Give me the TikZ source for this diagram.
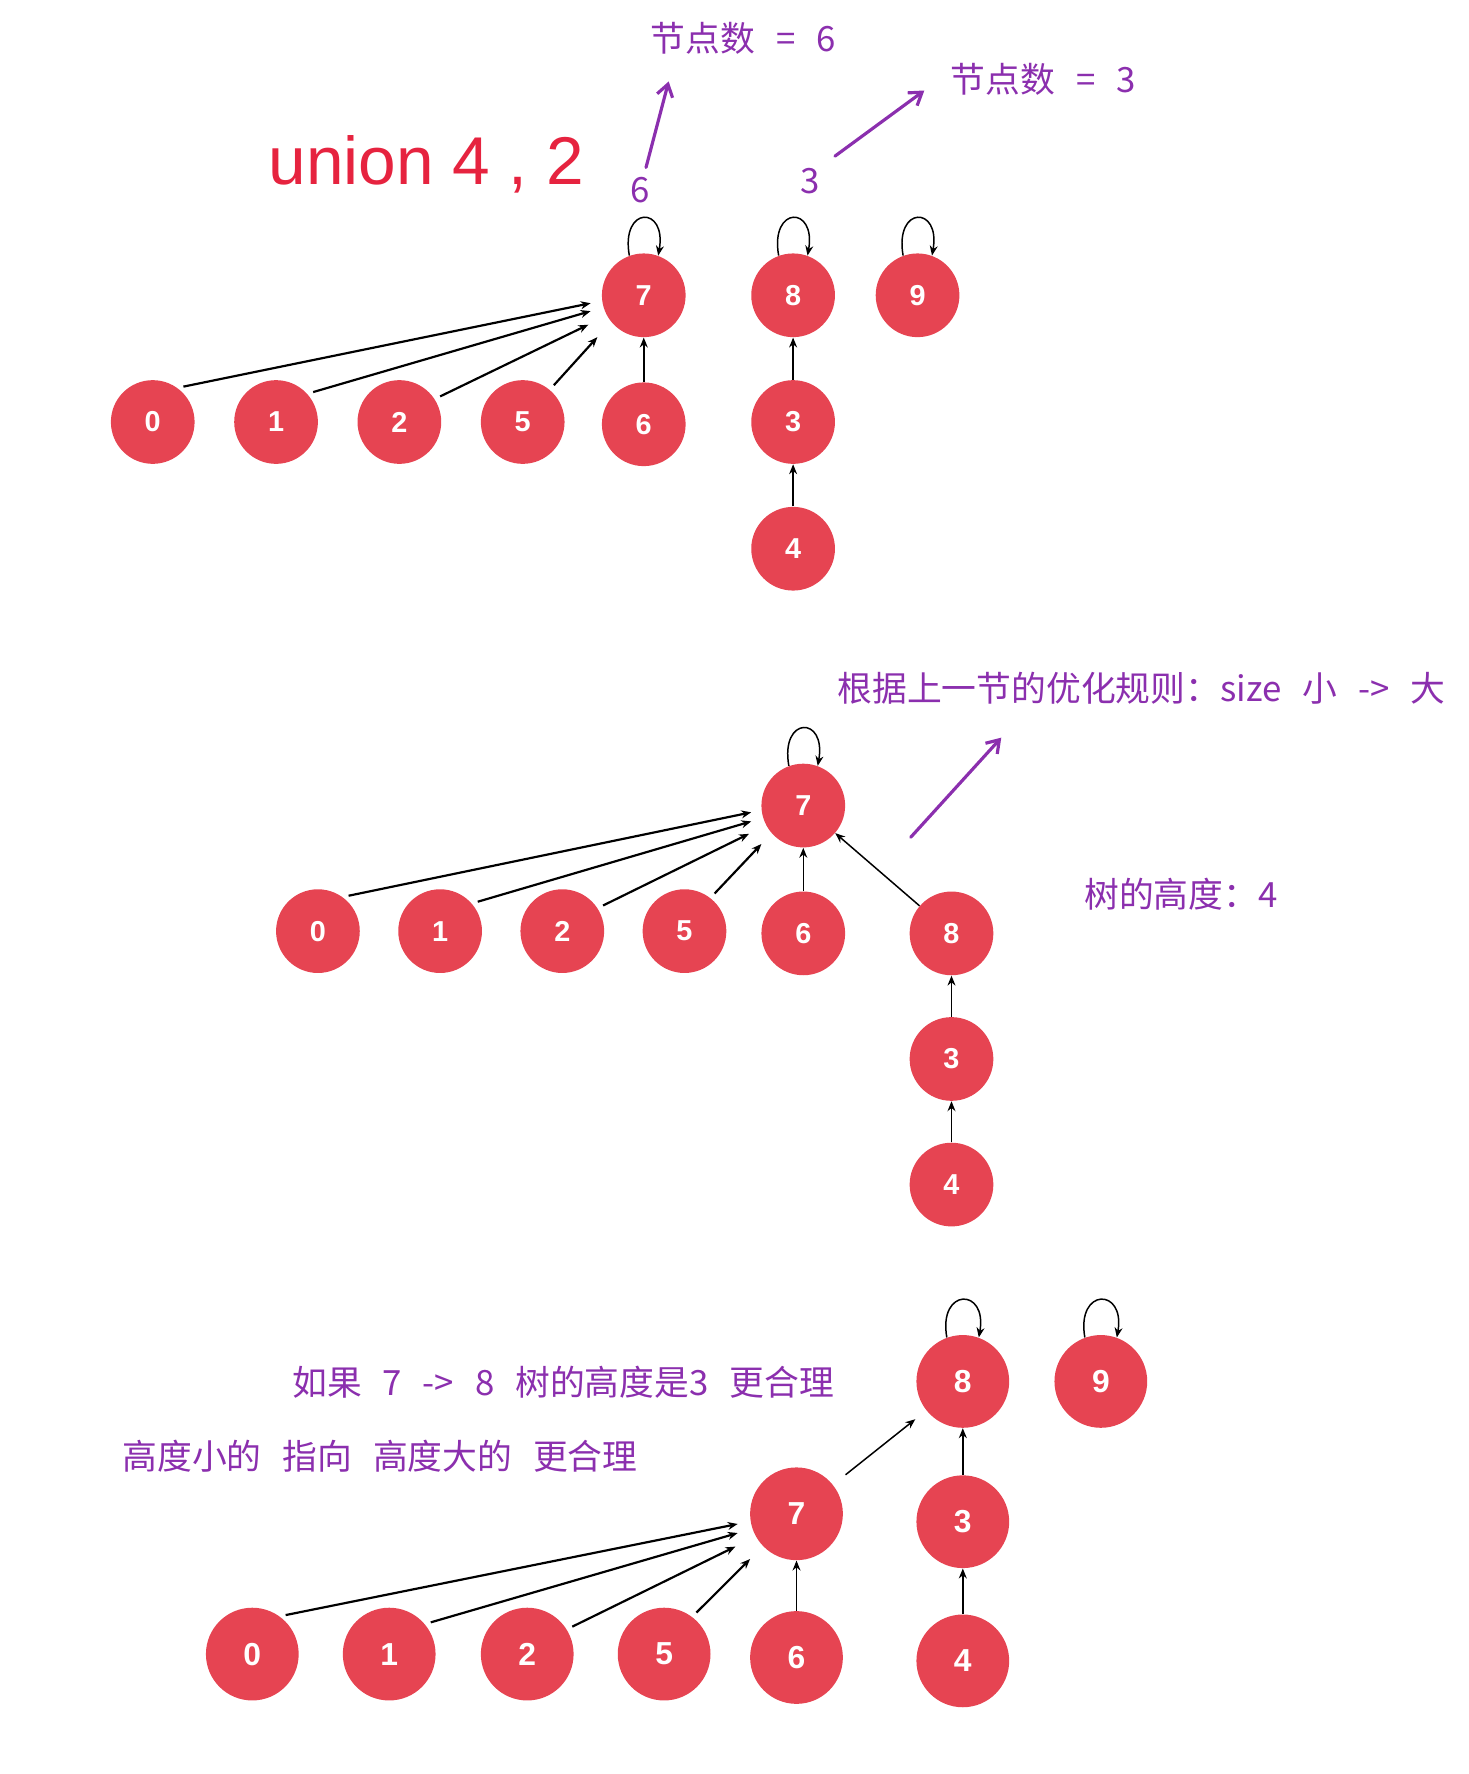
\documentclass[tikz,border=0pt]{standalone}
\usepackage{fontspec}
\setmainfont{Liberation Sans}
\newfontfamily\cjk{Noto Sans CJK SC}
\usetikzlibrary{arrows.meta}
\definecolor{nodered}{HTML}{E64452}
\definecolor{unionred}{HTML}{E6233F}
\definecolor{inkpurple}{HTML}{8B2FAE}
\newcommand{\notegap}{\hspace{0.6em}}
\begin{document}
\begin{tikzpicture}[x=0.02cm, y=0.02cm,
  >={Stealth[length=5pt,width=4pt]},
  ufnode/.style={circle, fill=nodered, text=white, inner sep=0pt, minimum size=1.48cm, font=\bfseries\fontsize{14.5}{14.5}\selectfont},
  ufbig/.style={ufnode, minimum size=1.64cm, font=\bfseries\fontsize{16}{16}\selectfont},
  link/.style={->, line width=0.75pt},
  fan/.style={->, line width=1.1pt, shorten <=3pt},
  selfloop/.style={->, line width=0.75pt, out=100, in=80, min distance=0.9cm},
  note/.style={text=inkpurple, inner sep=0pt, font=\cjk\fontsize{17.5}{20}\selectfont},
  ink/.style={draw=inkpurple, line width=1.6pt, line cap=round, -{Straight Barb[length=6pt,width=8pt]}}]
  \useasboundingbox (0,0) rectangle (1298,-1568);
  % Header
  \node (unionTitle) [text=unionred, anchor=base west, inner sep=0pt, font=\fontsize{34}{34}\selectfont] at (237,-163) {union 4 , 2};
  \node (cntSix) [note] at (657,-34) {节点数\notegap{}=\notegap{}6};
  \node (cntThree) [note] at (922,-70) {节点数\notegap{}=\notegap{}3};
  \node (sizeSix) [note] at (566,-168) {6};
  \node (sizeThree) [note] at (716,-160) {3};
  \coordinate (sixFrom) at (571,-148);
  \coordinate (sixTo) at (591,-72);
  \coordinate (threeFrom) at (738,-138);
  \coordinate (threeTo) at (817,-80);
  \draw[ink] (sixFrom) -- (sixTo);
  \draw[ink] (threeFrom) -- (threeTo);
  % Nodes
  \node (top7) [ufnode] at (569,-261) {7};
  \node (top8) [ufnode] at (701,-261) {8};
  \node (top9) [ufnode] at (811,-261) {9};
  \node (top0) [ufnode] at (135,-373) {0};
  \node (top1) [ufnode] at (244,-373) {1};
  \node (top2) [ufnode] at (353,-373) {2};
  \node (top5) [ufnode] at (462,-373) {5};
  \node (top6) [ufnode] at (569,-375) {6};
  \node (top3) [ufnode] at (701,-373) {3};
  \node (top4) [ufnode] at (701,-485) {4};
  % Arrow
  \draw[selfloop] (top7.110) to (top7.70);
  \draw[selfloop] (top8.110) to (top8.70);
  \draw[selfloop] (top9.110) to (top9.70);
  \draw[fan] (top0.54) -- ([shift={(-47,-7)}]top7.center);
  \draw[fan] (top1.42) -- ([shift={(-47,-14)}]top7.center);
  \draw[fan] (top2.33) -- ([shift={(-49,-26)}]top7.center);
  \draw[fan] (top5.50) -- ([shift={(-41,-37)}]top7.center);
  \draw[link] (top6) -- (top7);
  \draw[link] (top3) -- (top8);
  \draw[link] (top4) -- (top3);

  % Header
  \node (ruleNote) [note, anchor=west] at (740,-608) {根据上一节的优化规则：size\notegap{}小\notegap{}->\notegap{}大};
  \node (heightFour) [note, anchor=west] at (958,-790) {树的高度：4};
  \coordinate (ruleFrom) at (805,-740);
  \coordinate (ruleTo) at (885,-652);
  \draw[ink] (ruleFrom) -- (ruleTo);
  % Nodes
  \node (mid7) [ufnode] at (710,-712) {7};
  \node (mid0) [ufnode] at (281,-823) {0};
  \node (mid1) [ufnode] at (389,-823) {1};
  \node (mid2) [ufnode] at (497,-823) {2};
  \node (mid5) [ufnode] at (605,-823) {5};
  \node (mid6) [ufnode] at (710,-825) {6};
  \node (mid8) [ufnode] at (841,-825) {8};
  \node (mid3) [ufnode] at (841,-936) {3};
  \node (mid4) [ufnode] at (841,-1047) {4};
  % Arrow
  \draw[selfloop] (mid7.110) to (mid7.70);
  \draw[fan] (mid0.54) -- ([shift={(-46,-6)}]mid7.center);
  \draw[fan] (mid1.41) -- ([shift={(-46,-14)}]mid7.center);
  \draw[fan] (mid2.33) -- ([shift={(-48,-25)}]mid7.center);
  \draw[fan] (mid5.52) -- ([shift={(-37,-34)}]mid7.center);
  \draw[link] (mid6) -- (mid7);
  \draw[link] (mid8) -- (mid7);
  \draw[link] (mid3) -- (mid8);
  \draw[link] (mid4) -- (mid3);

  % Header
  \node (ifNote) [note, anchor=west] at (258,-1222) {如果\notegap{}7\notegap{}->\notegap{}8\notegap{}树的高度是3\notegap{}更合理};
  \node (ruleLow) [note, anchor=west] at (108,-1287) {高度小的\notegap{}指向\notegap{}高度大的\notegap{}更合理};
  % Nodes
  \node (bot8) [ufbig] at (851,-1221) {8};
  \node (bot9) [ufbig] at (973,-1221) {9};
  \node (bot7) [ufbig] at (704,-1338) {7};
  \node (bot3) [ufbig] at (851,-1345) {3};
  \node (bot4) [ufbig] at (851,-1468) {4};
  \node (bot0) [ufbig] at (223,-1462) {0};
  \node (bot1) [ufbig] at (344,-1462) {1};
  \node (bot2) [ufbig] at (466,-1462) {2};
  \node (bot5) [ufbig] at (587,-1462) {5};
  \node (bot6) [ufbig] at (704,-1465) {6};
  % Arrow
  \draw[selfloop] (bot8.110) to (bot8.70);
  \draw[selfloop] (bot9.110) to (bot9.70);
  \draw[fan] (bot0.54) -- ([shift={(-52,-9)}]bot7.center);
  \draw[fan] (bot1.40) -- ([shift={(-52,-17)}]bot7.center);
  \draw[fan] (bot2.32) -- ([shift={(-54,-29)}]bot7.center);
  \draw[fan] (bot5.53) -- ([shift={(-41,-40)}]bot7.center);
  \draw[link] (bot6) -- (bot7);
  \draw[link, shorten <=8pt, shorten >=7pt] (bot7) -- (bot8);
  \draw[link] (bot3) -- (bot8);
  \draw[link] (bot4) -- (bot3);
\end{tikzpicture}
\end{document}
